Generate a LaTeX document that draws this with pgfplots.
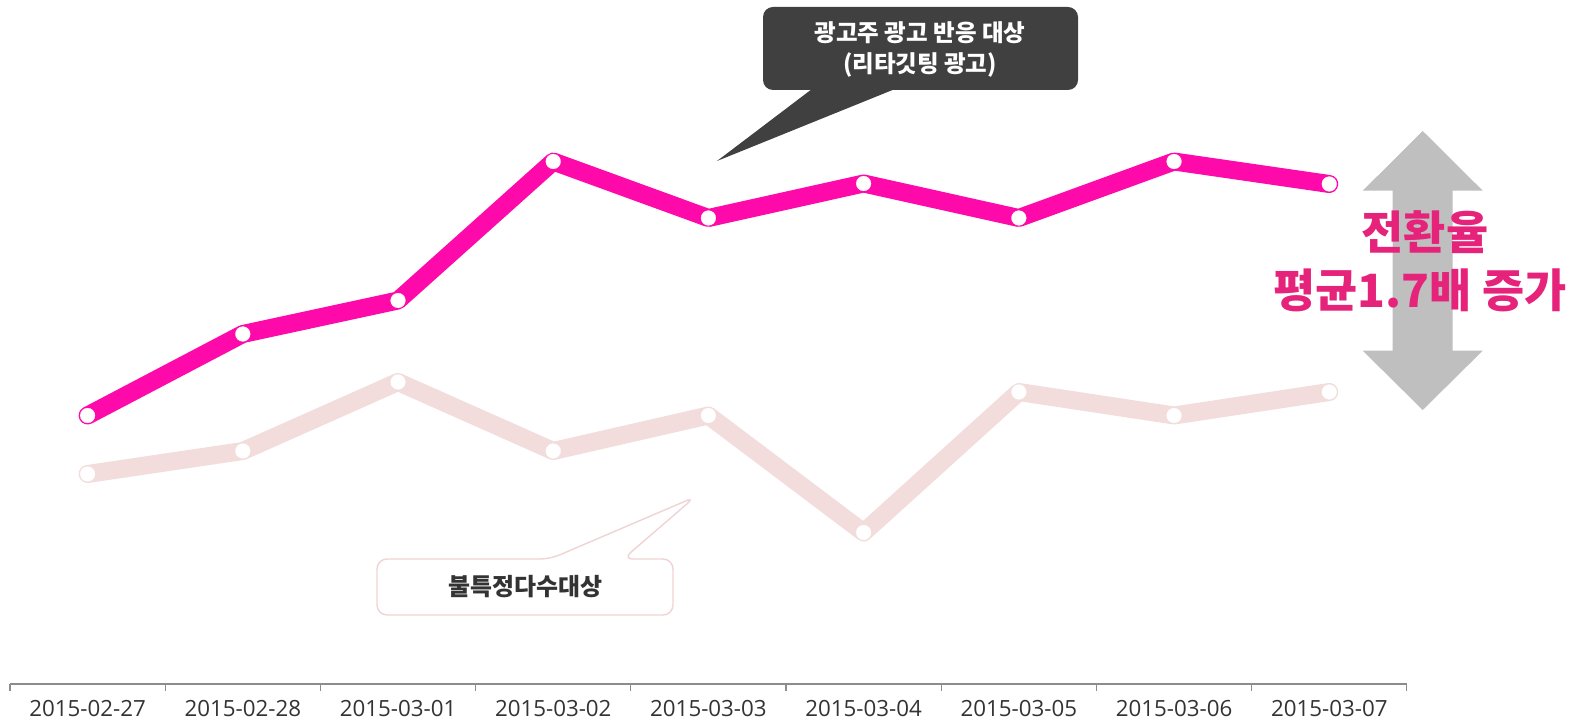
\documentclass[border=0pt]{standalone}
\usepackage{fontspec}
\setmainfont{Open Sans}
\newfontfamily\kr{Noto Sans CJK KR}
\usepackage{pgfplots}
\pgfplotsset{compat=1.18}
\definecolor{pinkline}{HTML}{FF0AAA}
\definecolor{lightline}{HTML}{F2DCDC}
\definecolor{callout}{HTML}{404040}
\definecolor{arrowgray}{HTML}{BFBFBF}
\definecolor{textpink}{HTML}{E6237A}
\definecolor{axisgray}{HTML}{8C8C8C}
\definecolor{labelgray}{HTML}{333333}
\definecolor{boxborder}{HTML}{F0D4D4}
\pgfplotstableread{
x light pink
0 247 305.5
1 270 387
2 339 420.5
3 270 559.5
4 305.5 503
5 188.5 537.5
6 329 503
7 305.5 559.5
8 329 537
}\datatable
\begin{document}
\begin{tikzpicture}
\begin{axis}[
  x=77.6bp, y=0.5bp,
  xmin=-0.5, xmax=8.5, ymin=37, ymax=721,
  axis x line*=bottom, axis y line=none,
  axis line style={axisgray, line width=0.6bp},
  xtick={0,...,8},
  xticklabels={2015-02-27,2015-02-28,2015-03-01,2015-03-02,2015-03-03,2015-03-04,2015-03-05,2015-03-06,2015-03-07},
  major tick length=0pt,
  minor xtick={-0.5,0.5,...,8.5},
  minor tick length=3.5bp, tick align=outside,
  tick style={axisgray, line width=0.6bp},
  xticklabel style={font=\fontsize{11.2}{13}\selectfont, text=labelgray, yshift=-4.5bp},
  clip=false,
]
\coordinate (TL) at (axis cs:-0.5644,721);
\coordinate (BL) at (axis cs:-0.5644,0);
\coordinate (TR) at (axis cs:9.622,721);
\addplot[lightline, line width=9bp, line cap=round, line join=round, no marks]
  table[x=x, y=light] {\datatable};
\addplot[only marks, mark=*, mark size=3.7bp, color=white, mark options={fill=white, draw=white, line width=0.1pt}]
  table[x=x, y=light] {\datatable};
\addplot[pinkline, line width=9bp, line cap=round, line join=round, no marks]
  table[x=x, y=pink] {\datatable};
\addplot[only marks, mark=*, mark size=3.7bp, color=white, mark options={fill=white, draw=white, line width=0.1pt}]
  table[x=x, y=pink] {\datatable};
\end{axis}
\begin{scope}[shift={(TL)}, x=0.5bp, y=-0.5bp]
  % dark callout
  \fill[callout, rounded corners=5bp] (763,7) rectangle (1078,90);
  \fill[callout] (812,89) -- (717,161) -- (895,89) -- cycle;
  \node[text=white, font=\kr\bfseries\fontsize{11.8}{13}\selectfont] at (920,33) {광고주 광고 반응 대상};
  \node[text=white, font=\kr\bfseries\fontsize{11.8}{13}\selectfont] at (920,65) {(리타깃팅 광고)};
  % light callout
  \path[fill=white, draw=boxborder, line width=0.7bp, rounded corners=5bp]
    (550,559) -- (695,497) -- (623,559) -- (673,559) -- (673,615) -- (377,615) -- (377,559) -- cycle;
  \node[text=labelgray, font=\kr\bfseries\fontsize{12}{13}\selectfont] at (525,587) {불특정다수대상};
  % double arrow
  \fill[arrowgray] (1422.7,131) -- (1482.7,190.7) -- (1452.7,190.7) -- (1452.7,350.7) -- (1482.7,350.7)
    -- (1422.7,410) -- (1362.7,350.7) -- (1392.7,350.7) -- (1392.7,190.7) -- (1362.7,190.7) -- cycle;
  \node[text=textpink, font=\kr\bfseries\fontsize{23}{26}\selectfont] at (1425,232) {전환율};
  \node[text=textpink, font=\kr\bfseries\fontsize{23}{26}\selectfont] at (1420,290) {평균1.7배 증가};
\end{scope}
\pgfresetboundingbox
\path[use as bounding box] (BL) rectangle (TR);
\end{tikzpicture}
\end{document}
